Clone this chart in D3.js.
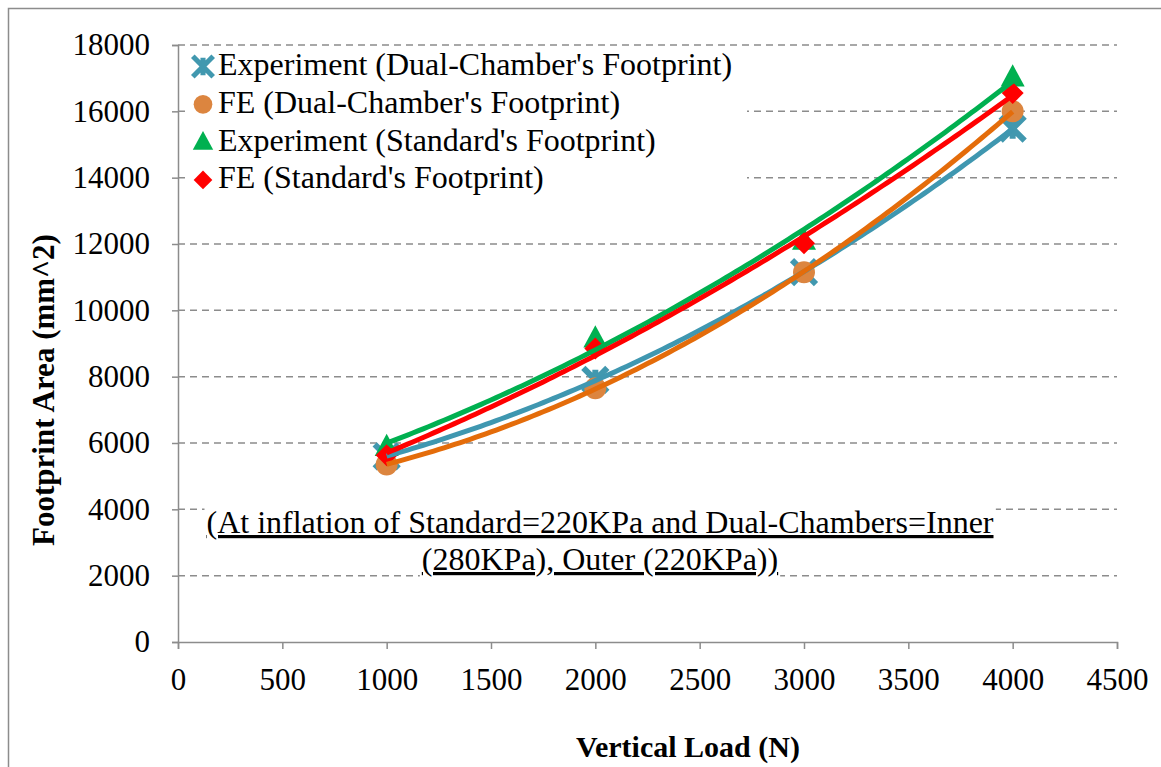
<!DOCTYPE html>
<html><head><meta charset="utf-8">
<script src="https://cdn.jsdelivr.net/npm/d3@7"></script>
<style>body{margin:0;background:#fff}svg{display:block}</style>
</head><body>
<svg id="c" width="1161" height="767"></svg>
<script>
const loads = [1000, 2000, 3000, 4000];
const expDual = [5600, 7900, 11150, 15480];
const feDual = [5350, 7650, 11150, 16000];
const expStd = [5880, 9150, 12100, 17020];
const feStd = [5630, 8850, 12020, 16550];
const seriesNames = ["Experiment (Dual-Chamber's Footprint)", "FE (Dual-Chamber's Footprint)", "Experiment (Standard's Footprint)", "FE (Standard's Footprint)"];
const xTicks = [0,500,1000,1500,2000,2500,3000,3500,4000,4500];
const yTicks = [0,2000,4000,6000,8000,10000,12000,14000,16000,18000];
const noteLines = ["(At inflation of Standard=220KPa and Dual-Chambers=Inner", "(280KPa), Outer (220KPa))"];

const series = [
  {name: seriesNames[0], values: expDual, line: "#3F97B0", mark: "#4198AF", shape: "x"},
  {name: seriesNames[1], values: feDual, line: "#E46C0A", mark: "#DC853F", shape: "circle"},
  {name: seriesNames[2], values: expStd, line: "#00B050", mark: "#00B050", shape: "triangle"},
  {name: seriesNames[3], values: feStd, line: "#FF0000", mark: "#FF0000", shape: "diamond"}
];

const svg = d3.select("#c");
const font = "'Liberation Serif','Times New Roman',serif";
const x = d3.scaleLinear().domain([0,4500]).range([178,1117]);
const y = d3.scaleLinear().domain([0,18000]).range([642,45]);

svg.append("rect").attr("x",8.5).attr("y",8.5).attr("width",1160).attr("height",800)
  .attr("fill","#fff").attr("stroke","#8c8c8c").attr("stroke-width",1.5);

// gridlines
svg.append("g").selectAll("line").data(yTicks.filter(d=>d>0)).join("line")
  .attr("x1",x(0)).attr("x2",x(4500)).attr("y1",d=>y(d)).attr("y2",d=>y(d))
  .attr("stroke","#8c8c8c").attr("stroke-width",1.5).attr("stroke-dasharray","7,5");

// axes
const yAxis = svg.append("g").attr("transform",`translate(${x(0)},0)`)
  .call(d3.axisLeft(y).tickValues(yTicks).tickSize(6).tickPadding(22).tickFormat(d3.format("d")));
const xAxis = svg.append("g").attr("transform",`translate(0,${y(0)})`)
  .call(d3.axisBottom(x).tickValues(xTicks).tickSize(7).tickPadding(19).tickFormat(d3.format("d")));
[yAxis,xAxis].forEach(a=>{
  a.select(".domain").attr("stroke","#8c8c8c").attr("stroke-width",1.5);
  a.selectAll(".tick line").attr("stroke","#8c8c8c").attr("stroke-width",1.5);
  a.selectAll("text").attr("font-family",font).attr("font-size",31).attr("fill","#000");
});

// axis titles
svg.append("text").attr("x",688).attr("y",757).attr("text-anchor","middle")
  .attr("font-family",font).attr("font-size",30).attr("font-weight","bold").text("Vertical Load (N)");
svg.append("text").attr("transform","translate(54,390) rotate(-90)").attr("text-anchor","middle")
  .attr("font-family",font).attr("font-size",31).attr("font-weight","bold").text("Footprint Area (mm^2)");

// annotation
const note = svg.append("g");
noteLines.forEach((t,i)=>{
  const ty = 533 + i*37;
  const txt = note.append("text").attr("x",600).attr("y",ty).attr("text-anchor","middle")
    .attr("font-family",font).attr("font-size",32).attr("text-decoration","underline").text(t);
  const bb = txt.node().getBBox();
  note.insert("rect","text").attr("x",bb.x-2).attr("y",bb.y).attr("width",bb.width+4).attr("height",bb.height).attr("fill","#fff");
});

// markers
function drawMarker(g, shape, color, cx, cy, s) {
  if (shape==="x") {
    const r = 12*s;
    g.append("path").attr("d",`M${cx-r},${cy-r}L${cx+r},${cy+r}M${cx-r},${cy+r}L${cx+r},${cy-r}M${cx},${cy-r*0.85}L${cx},${cy+r*0.85}`)
      .attr("stroke",color).attr("stroke-width",6*s).attr("fill","none");
  } else if (shape==="circle") {
    g.append("circle").attr("cx",cx).attr("cy",cy).attr("r",11*s).attr("fill",color);
  } else if (shape==="triangle") {
    const r = 12*s;
    g.append("path").attr("d",`M${cx},${cy-r*1.1}L${cx+r},${cy+r*0.75}L${cx-r},${cy+r*0.75}Z`).attr("fill",color);
  } else {
    const r = 11*s;
    g.append("path").attr("d",`M${cx},${cy-r}L${cx+r},${cy}L${cx},${cy+r}L${cx-r},${cy}Z`).attr("fill",color);
  }
}
const mg = svg.append("g");
series.forEach(s=>{
  s.values.forEach((v,i)=>drawMarker(mg, s.shape, s.mark, x(loads[i]), y(v), 1));
});

// quadratic least-squares trendlines derived from the data
function quadFit(xs, ys) {
  const n = xs.length; let S=[0,0,0,0,0], T=[0,0,0];
  for (let i=0;i<n;i++){ const xi=xs[i]/1000, yi=ys[i];
    for(let k=0;k<5;k++) S[k]+=Math.pow(xi,k);
    for(let k=0;k<3;k++) T[k]+=yi*Math.pow(xi,k); }
  const A=[[S[0],S[1],S[2],T[0]],[S[1],S[2],S[3],T[1]],[S[2],S[3],S[4],T[2]]];
  for(let i=0;i<3;i++){ for(let j=i+1;j<3;j++){ const f=A[j][i]/A[i][i]; for(let k=i;k<4;k++) A[j][k]-=f*A[i][k]; } }
  const c=[0,0,0];
  for(let i=2;i>=0;i--){ let s=A[i][3]; for(let k=i+1;k<3;k++) s-=A[i][k]*c[k]; c[i]=s/A[i][i]; }
  return xv => c[0]+c[1]*(xv/1000)+c[2]*(xv/1000)*(xv/1000);
}
const line = d3.line().x(d=>x(d[0])).y(d=>y(d[1]));
const lg = svg.append("g");
series.forEach(s=>{
  const f = quadFit(loads, s.values);
  const pts = d3.range(1000, 4000.1, 25).map(v=>[v, f(v)]);
  lg.append("path").attr("d", line(pts)).attr("fill","none").attr("stroke",s.line).attr("stroke-width",5);
});

// legend
const leg = svg.append("g");
leg.append("rect").attr("x",185).attr("y",49).attr("width",562).attr("height",150).attr("fill","#fff");
series.forEach((s,i)=>{
  const by = 75 + i*37.8;
  drawMarker(leg, s.shape, s.mark, 203, by-8.5, 0.85);
  leg.append("text").attr("x",218).attr("y",by).attr("font-family",font).attr("font-size",32).text(s.name);
});
</script>
</body></html>
